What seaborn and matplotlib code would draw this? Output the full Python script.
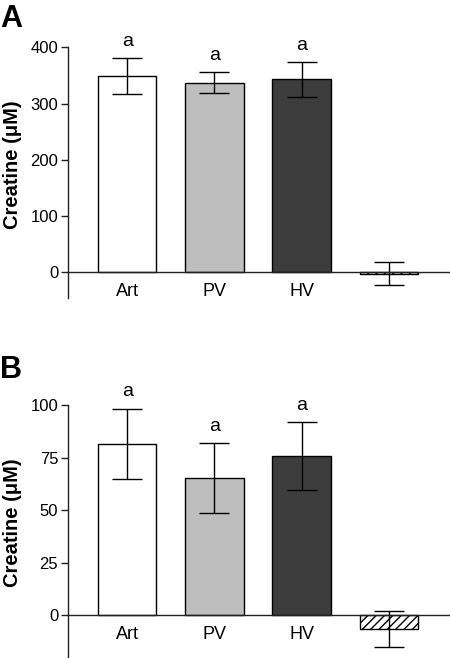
import matplotlib
matplotlib.use("Agg")
import matplotlib.pyplot as plt
import pandas as pd
import seaborn as sns

# Data
groups = ["Art", "PV", "HV", "Blank"]
tick_labels = ["Art", "PV", "HV", ""]
letters = ["a", "a", "a", ""]

a_mean = [349, 337, 343, -2.5]
a_err = [31.5, 18.7, 30.5, 20]

b_mean = [81.4, 65.3, 75.5, -6.7]
b_err = [16.8, 16.6, 16.2, 8.7]

bar_colors = ["#ffffff", "#bebebe", "#3c3c3c", "#ffffff"]

sns.set_style("ticks")
plt.rcParams['font.family'] = ['Liberation Sans', 'DejaVu Sans']
plt.rcParams['hatch.linewidth'] = 1.0
for key in ['text.color', 'axes.labelcolor', 'xtick.color', 'ytick.color']:
  plt.rcParams[key] = 'black'


def draw_panel(ax, means, errs, ylim, yticks):
  df = pd.DataFrame({'group': groups, 'value': means})
  sns.barplot(data=df, x='group', y='value', hue='group', order=groups,
              hue_order=groups, palette=bar_colors, legend=False,
              width=0.67, edgecolor='black', linewidth=1, errorbar=None,
              saturation=1, ax=ax)
  # hatch the last (blank) bar
  for bar in ax.containers[3]:
    bar.set_hatch('////')

  ax.errorbar(range(len(groups)), means, yerr=errs, fmt='none',
              ecolor='black', elinewidth=1, capsize=10.5, capthick=1)

  for i, (m, e, t) in enumerate(zip(means, errs, letters)):
    if t:
      ax.annotate(t, (i, m + e), xytext=(0, 6), textcoords='offset points',
                  ha='center', va='bottom', fontsize=14)

  ax.set_xlim(-0.68, 3.70)
  ax.set_ylim(*ylim)
  ax.set_yticks(yticks)
  ax.set_xticks(range(len(groups)))
  ax.set_xticklabels(tick_labels)
  ax.set_xlabel('')
  ax.set_ylabel('Creatine (\u03bcM)', fontsize=14.5, fontweight='bold')
  ax.yaxis.set_label_coords(-0.12, 0.532)

  sns.despine(ax=ax)
  ax.spines['bottom'].set_position(('data', 0))
  for s in ['left', 'bottom']:
    ax.spines[s].set_linewidth(1)
    ax.spines[s].set_color('#222222')
  ax.tick_params(axis='x', length=0, pad=8, labelsize=13)
  ax.tick_params(axis='y', length=5, width=1, direction='out', pad=2,
                 labelsize=12, color='#222222')


fig = plt.figure(figsize=(4.5, 6.58), dpi=100)
ax1 = fig.add_axes([0.151, 0.547, 0.849, 0.381])
ax2 = fig.add_axes([0.151, 0.0015, 0.849, 0.383])

draw_panel(ax1, a_mean, a_err, (-46, 400), [0, 100, 200, 300, 400])
draw_panel(ax2, b_mean, b_err, (-20, 100), [0, 25, 50, 75, 100])

fig.text(0.0, 0.959, 'A', fontsize=22, fontweight='bold', ha='left',
         va='baseline')
fig.text(0.0, 0.4255, 'B', fontsize=22, fontweight='bold', ha='left',
         va='baseline')

fig.savefig('out.png', dpi=100)
